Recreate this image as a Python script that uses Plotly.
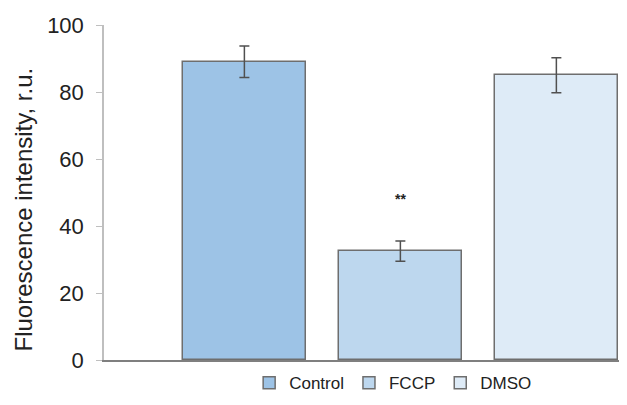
import plotly.graph_objects as go

categories = ["Control", "FCCP", "DMSO"]
values = [89, 32.5, 85]
errors = [4.7, 3.0, 5.2]
colors = ["#9DC3E6", "#BDD7EE", "#DEEBF7"]
positions = [1, 2, 3]
y_ticks = [0, 20, 40, 60, 80, 100]
y_title = "Fluorescence intensity, r.u."

fig = go.Figure()
for name, v, e, c, p in zip(categories, values, errors, colors, positions):
    fig.add_trace(go.Bar(
        x=[p], y=[v], name=name, width=0.79,
        marker=dict(color=c, line=dict(color="#6E6E6E", width=1.5)),
        error_y=dict(type="data", array=[e], color="#505050", thickness=1.5, width=5),
    ))

fig.add_annotation(x=positions[1], y=values[1] + 15.5, text="<b>**</b>", showarrow=False,
                   font=dict(family="Liberation Sans, Arial", size=14, color="#222222"))

fig.add_annotation(xref="paper", yref="paper", x=-0.155, y=0.45, text=y_title,
                   textangle=-90, showarrow=False, xanchor="center", yanchor="middle",
                   font=dict(family="Liberation Sans, Arial", size=24, color="#222222"))

# page body has an 8px margin, so the figure is sized and offset to compensate
fig.update_layout(
    width=619, height=397,
    margin=dict(l=96, r=2, t=17, b=45),
    paper_bgcolor="white", plot_bgcolor="white",
    font=dict(family="Liberation Sans, Arial", color="#222222"),
    showlegend=True,
    legend=dict(orientation="h", x=0.555, xanchor="center", y=-0.069, yanchor="middle",
                font=dict(size=17), itemwidth=30, tracegroupgap=0),
    xaxis=dict(range=[0.1, 3.44], showticklabels=False, ticks="", showgrid=False,
               zeroline=False, showline=True, linecolor="#7F7F7F", linewidth=1.5),
    yaxis=dict(range=[0, 100], tickvals=y_ticks, showgrid=False, zeroline=False,
               showline=True, linecolor="#BFBFBF", linewidth=1.5, ticks="outside",
               tickcolor="#BFBFBF", ticklen=6, ticklabelstandoff=8, tickfont=dict(size=22),
               automargin=False),
    bargap=0,
)

fig.write_html("out.html")
